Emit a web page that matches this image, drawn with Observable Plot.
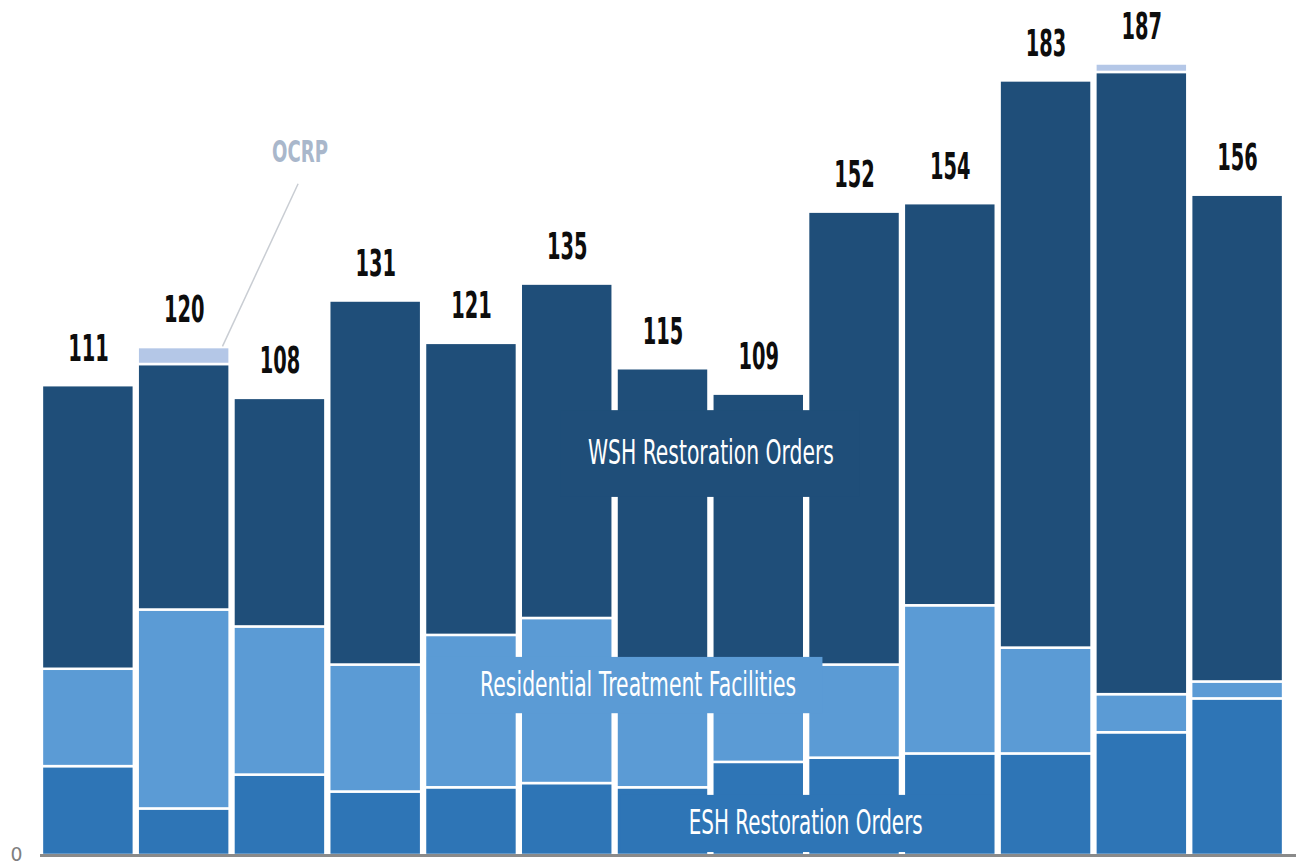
<!DOCTYPE html>
<html>
<head>
<meta charset="utf-8">
<script src="https://cdn.jsdelivr.net/npm/d3@7"></script>
<script src="https://cdn.jsdelivr.net/npm/@observablehq/plot@0.6"></script>
<style>
  html, body { margin: 0; padding: 0; background: #fff; }
  #chart { width: 1296px; height: 865px; overflow: hidden; }
</style>
</head>
<body>
<div id="chart"></div>
<script>
// ---- data ----
const bars   = [1, 2, 3, 4, 5, 6, 7, 8, 9, 10, 11, 12, 13];
const esh    = [21, 11, 19, 15, 16, 17, 16, 22, 23, 24, 24, 29, 37];
const resid  = [23, 47, 35, 30, 36, 39, 24, 19, 22, 35, 25, 9, 4];
const wsh    = [67, 58, 54, 86, 69, 79, 75, 68, 107, 95, 134, 147, 115];
const ocrp   = [0, 4, 0, 0, 0, 0, 0, 0, 0, 0, 0, 2, 0];
const totals = [111, 120, 108, 131, 121, 135, 115, 109, 152, 154, 183, 187, 156];
const seriesNames = ["ESH Restoration Orders", "Residential Treatment Facilities", "WSH Restoration Orders", "OCRP"];
const seriesColors = ["#2e75b6", "#5b9bd5", "#1f4e79", "#b4c7e7"];
const yTicks = [0];

// in-chart series labels (position in data units) with their backing boxes
const seriesLabels = [
  {text: "WSH Restoration Orders", x: 7.5, y: 95, x1: 5.93, x2: 9.06, y1: 84.6, y2: 105.1, fill: "#1f4e79", color: "#ffffff", w: 246},
  {text: "Residential Treatment Facilities", x: 6.74, y: 40.2, x1: 4.54, x2: 8.67, y1: 33.5, y2: 46.8, fill: "#5b9bd5", color: "#ffffff", w: 316},
  {text: "ESH Restoration Orders", x: 8.49, y: 7.6, x1: 6.56, x2: 10.45, y1: 0.7, y2: 14.2, fill: "#2e75b6", color: "#ffffff", w: 234}
];
const ocrpLabel = [{text: "OCRP", x: 3.21, y: 166, w: 56}];
const ocrpLeader = [{x1: 3.19, y1: 158.7, x2: 2.40, y2: 120.3}];

// ---- build stacked segments ----
const seriesValues = [esh, resid, wsh, ocrp];
const segments = [];
bars.forEach((b, i) => {
  let base = 0;
  seriesValues.forEach((vals, s) => {
    const v = vals[i];
    if (v > 0) {
      segments.push({bar: b, series: seriesNames[s], y1: base, y2: base + v});
    }
    base += v;
  });
});
const totalData = bars.map((b, i) => ({bar: b, total: totals[i]}));

const font = "'DejaVu Sans', 'Liberation Sans', sans-serif";

const chart = Plot.plot({
  width: 1296,
  height: 865,
  marginTop: 0,
  marginBottom: 10,
  marginLeft: 40,
  marginRight: 11,
  style: {background: "#ffffff", fontFamily: font},
  x: {type: "linear", domain: [0.5, 13.5], axis: null},
  y: {domain: [0, 202], axis: null},
  color: {domain: seriesNames, range: seriesColors},
  marks: [
    Plot.rect(segments, {
      x1: d => d.bar - 0.48, x2: d => d.bar + 0.48,
      y1: "y1", y2: "y2",
      fill: "series",
      stroke: "#ffffff", strokeWidth: 2.5
    }),
    Plot.rect(seriesLabels, {x1: "x1", x2: "x2", y1: "y1", y2: "y2", fill: d => d.fill}),
    Plot.text(seriesLabels, {
      x: "x", y: "y", text: "text", fill: "color",
      fontSize: 33, fontFamily: font
    }),
    Plot.ruleY(yTicks, {x1: 0.5, x2: 13.63, stroke: "#8a8a8a", strokeWidth: 3}),
    Plot.text(yTicks, {
      x: 0.5, y: d => d, text: d => String(d), dx: -18, dy: -1, textAnchor: "end",
      fill: "#7f7f7f", fontSize: 19, fontFamily: font
    }),
    Plot.text(totalData, {
      x: "bar", y: "total", text: d => String(d.total), dy: -37,
      fill: "#0d0d0d", fontSize: 37, fontWeight: "bold", fontFamily: font
    }),
    Plot.link(ocrpLeader, {x1: "x1", y1: "y1", x2: "x2", y2: "y2", stroke: "#c9cdd3", strokeWidth: 1.5}),
    Plot.text(ocrpLabel, {
      x: "x", y: "y", text: "text", fill: "#a9b7cb",
      fontSize: 30, fontWeight: "bold", fontFamily: font
    })
  ]
});
document.getElementById("chart").appendChild(chart);

// condense text horizontally (reference uses a narrow face)
const targetWidth = new Map();
totals.forEach(t => targetWidth.set(String(t), String(t).length * 13.5));
seriesLabels.forEach(d => targetWidth.set(d.text, d.w));
ocrpLabel.forEach(d => targetWidth.set(d.text, d.w));
yTicks.forEach(t => targetWidth.set(String(t), 12));

d3.select(chart).selectAll("text").each(function() {
  const target = targetWidth.get(this.textContent);
  if (!target) return;
  this.setAttribute("textLength", target);
  this.setAttribute("lengthAdjust", "spacingAndGlyphs");
});
</script>
</body>
</html>
